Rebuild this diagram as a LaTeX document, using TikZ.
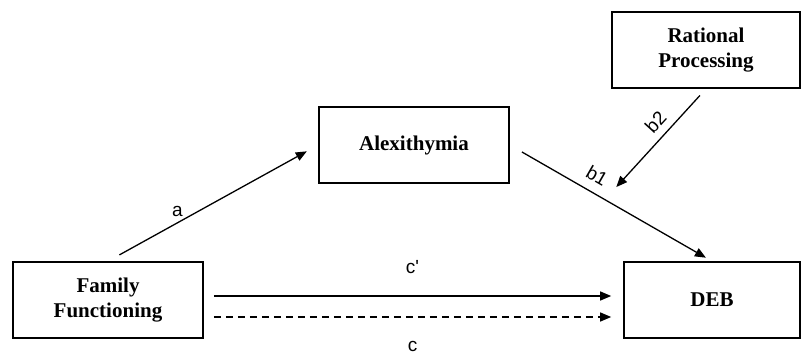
\documentclass[tikz,border=0pt]{standalone}
\usepackage{fontspec}
\setmainfont{Liberation Serif}
\newfontfamily\labelfont{Liberation Sans}
\usetikzlibrary{calc, arrows.meta}

\begin{document}
\begin{tikzpicture}[x=1pt, y=-1pt, >={Triangle[length=11pt,width=9pt]}, line width=1.3pt,
    var/.style={draw, line width=1.6pt, minimum width=190pt, minimum height=76pt,
      align=center, font=\fontsize{21}{25}\selectfont\bfseries},
    lbl/.style={font=\labelfont\fontsize{19}{21}\selectfont}]
          \useasboundingbox (0, 0) rectangle (801, 357);

          \node [var] (FF) at (108, 300) {Family\\Functioning};
          \node [var] (Alex) at (414, 145) {Alexithymia};
          \node [var, minimum width=188pt] (RP) at (706, 50) {Rational\\Processing};
          \node [var, minimum width=176pt] (DEB) at (712, 300) {DEB};

          \draw [->, shorten <=13pt, shorten >=13pt] (FF.north) -- node[lbl, pos=0.33, above=2pt]{a} (Alex.west);
          \draw [->, shorten <=14pt, shorten >=7pt] (Alex.east) -- coordinate[pos=0.47] (hit)
                node[lbl, sloped, above=6pt, pos=0.39]{b1} (DEB.north);
          \draw [->, shorten <=9pt, shorten >=17pt] (RP.south) -- node[lbl, sloped, above=4pt, pos=0.39]{b2} (hit);
          \draw [->] ($(FF.east)+(10,-4)$) -- node[lbl, above=18pt]{c'} ($(DEB.west)+(-12,-4)$);
          \draw [->, dash pattern=on 7pt off 5pt] ($(FF.east)+(10,17)$) -- node[lbl, below=20pt]{c} ($(DEB.west)+(-12,17)$);

      \end{tikzpicture}
\end{document}
